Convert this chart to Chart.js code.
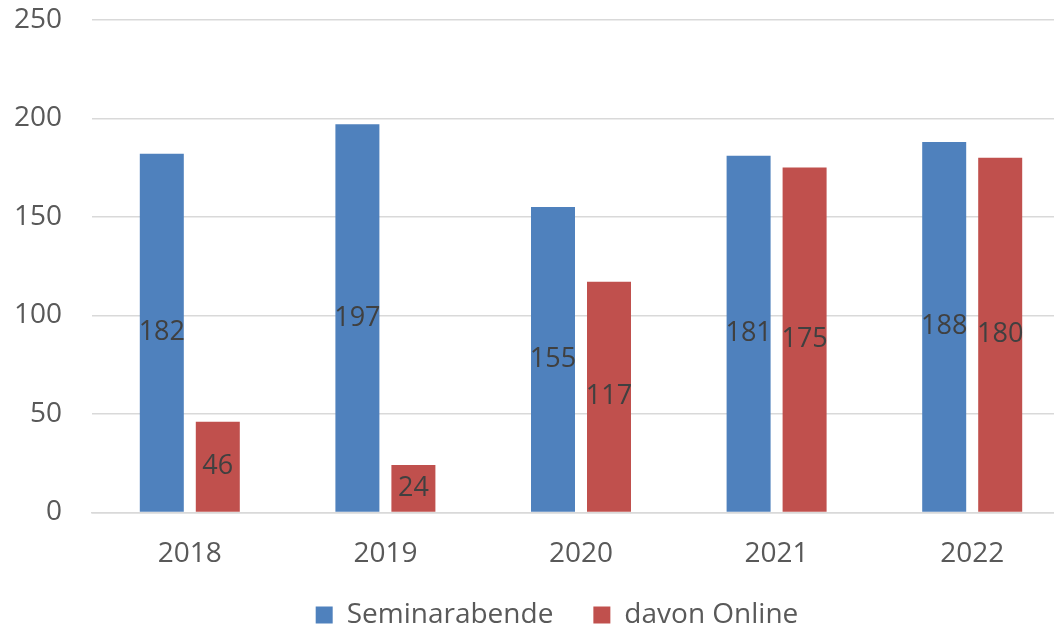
<!DOCTYPE html>
<html>
<head>
<meta charset="utf-8">
<script src="https://cdn.jsdelivr.net/npm/chart.js@4"></script>
<style>
  html, body { margin: 0; padding: 0; background: #fff; overflow: hidden; }
  #wrap { width: 1054px; height: 629px; overflow: hidden; }
</style>
</head>
<body>
<div id="wrap"><canvas id="chart" width="1070" height="629"></canvas></div>
<script>
const years = ['2018', '2019', '2020', '2021', '2022'];
const seminarabende = [182, 197, 155, 181, 188];
const davonOnline = [46, 24, 117, 175, 180];

const FONT = "'Open Sans', 'Noto Sans', sans-serif";

// value labels in the middle of each bar
const barLabels = {
    id: 'barLabels',
    afterDatasetsDraw(chart) {
        const ctx = chart.ctx;
        ctx.save();
        ctx.font = '27px ' + FONT;
        ctx.fillStyle = '#404040';
        ctx.textAlign = 'center';
        ctx.textBaseline = 'middle';
        chart.data.datasets.forEach((ds, i) => {
            chart.getDatasetMeta(i).data.forEach((bar, j) => {
                ctx.fillText(ds.data[j], bar.x, (bar.y + bar.base) / 2);
            });
        });
        ctx.restore();
    }
};

// the plot runs past the right edge of the window, so nudge the legend back
const legendShift = {
    id: 'legendShift',
    afterLayout(chart) {
        const lg = chart.legend;
        lg.left += 22;
        lg.right += 22;
        lg.top -= 27;
        lg.bottom -= 27;
    }
};

new Chart(document.getElementById('chart'), {
    type: 'bar',
    data: {
        labels: years,
        datasets: [{
            label: 'Seminarabende',
            data: seminarabende,
            backgroundColor: '#4F81BD',
            categoryPercentage: 0.5726,
            barPercentage: 0.7857
        }, {
            label: 'davon Online',
            data: davonOnline,
            backgroundColor: '#C0504D',
            categoryPercentage: 0.5726,
            barPercentage: 0.7857
        }]
    },
    options: {
        responsive: false,
        animation: false,
        layout: { padding: { top: 0, right: 0, bottom: -37, left: 0 } },
        plugins: {
            tooltip: { enabled: false },
            legend: {
                position: 'bottom',
                labels: {
                    boxWidth: 17,
                    boxHeight: 17,
                    padding: 40,
                    color: '#595959',
                    font: { family: FONT, size: 28 }
                }
            }
        },
        scales: {
            x: {
                grid: { display: false },
                border: { color: '#D9D9D9', width: 1.5 },
                ticks: { color: '#595959', font: { family: FONT, size: 28 }, padding: 17 }
            },
            y: {
                min: 0,
                max: 250,
                afterFit: (scale) => { scale.width = 92; },
                grid: {
                    color: '#D9D9D9',
                    lineWidth: 1.5,
                    drawTicks: true,
                    tickLength: 27,
                    tickColor: 'rgba(0,0,0,0)'
                },
                border: { display: false },
                ticks: {
                    stepSize: 50,
                    color: '#595959',
                    padding: 3,
                    font: { family: FONT, size: 28 }
                }
            }
        }
    },
    plugins: [barLabels, legendShift]
});
</script>
</body>
</html>
